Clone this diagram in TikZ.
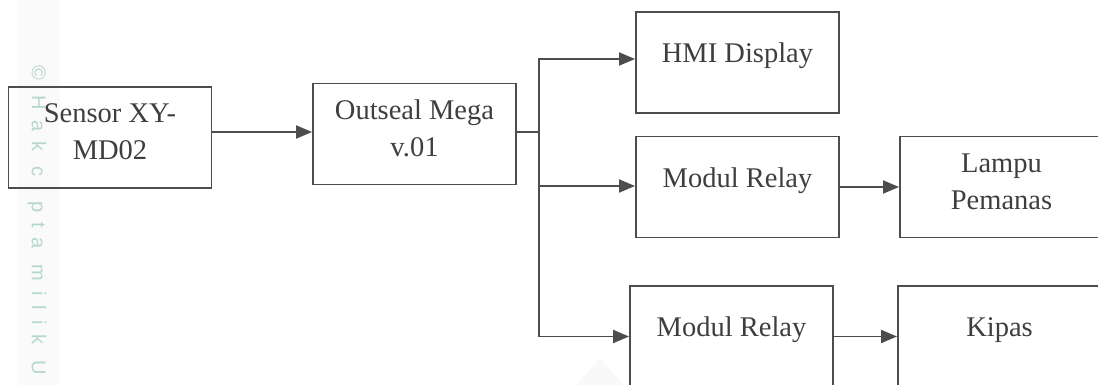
\documentclass[tikz,border=0pt]{standalone}
\usepackage{fontspec}
\setmainfont{Liberation Serif}
\newfontfamily\watermarkfont[LetterSpace=50]{Liberation Sans}
\usetikzlibrary{arrows.meta}
\definecolor{linegray}{HTML}{4D4D4D}
\definecolor{textgray}{HTML}{3E3E3E}
\definecolor{markgreen}{HTML}{B5D8C9}
\tikzset{
block/.style={
  rectangle,
  draw=linegray,
  line width=0.95pt,
  minimum width=101.5pt,
  minimum height=50.5pt,
  inner sep=0pt,
  align=center,
  text=textgray,
  font=\fontsize{14.25}{18.5}\selectfont
},
oneline/.style={text height=1.2ex,text depth=1.2ex},
wire/.style={draw=linegray,line width=0.95pt},
flow/.style={wire,-{Triangle[length=8pt,width=6.5pt]}}
}

\begin{document}
\begin{tikzpicture}[x=0.5pt,y=-0.5pt]
\clip (0,0) rectangle (1098,385);
% the watermark
\fill[gray!4] (18,0) rectangle (60,385);
\fill[gray!5] (600,358) -- (570,392) -- (630,392) -- cycle;
\node[markgreen,font=\watermarkfont\fontsize{10}{10}\selectfont,rotate=-90,anchor=west,inner sep=0pt]
  (hakcipta) at (37,65) {© Hak cipta milik U};
% the blocks
\node[block] (sensor) at (110,137.5) {Sensor XY-\\MD02\strut};
\node[block] (outseal) at (414.5,134) {Outseal Mega\\v.01\strut};
\node[block,oneline] (hmi) at (737.5,62.5) {HMI Display};
\node[block,oneline] (relayone) at (737.5,187) {Modul Relay};
\node[block] (lampu) at (1001.5,187) {Lampu\\Pemanas\strut};
\node[block,oneline] (relaytwo) at (731.5,336.5) {Modul Relay};
\node[block,oneline] (kipas) at (999.5,336.5) {Kipas};
% the branch points
\coordinate (split) at (539,132);
\coordinate (tohmi) at (539,59);
\coordinate (torelayone) at (539,186);
\coordinate (torelaytwo) at (split |- relaytwo);
% the arrows
\draw[flow] (sensor.east |- split) -- (outseal.west |- split);
\draw[wire] (outseal.east |- split) -- (split);
\draw[wire,line cap=rect] (tohmi) -- (torelaytwo);
\foreach \dest in {hmi,relayone,relaytwo}
{
  \draw[flow] (to\dest) -- (to\dest -| \dest.west);
}
\draw[flow] (relayone) -- (lampu);
\draw[flow] (relaytwo) -- (kipas);
\end{tikzpicture}
\end{document}
